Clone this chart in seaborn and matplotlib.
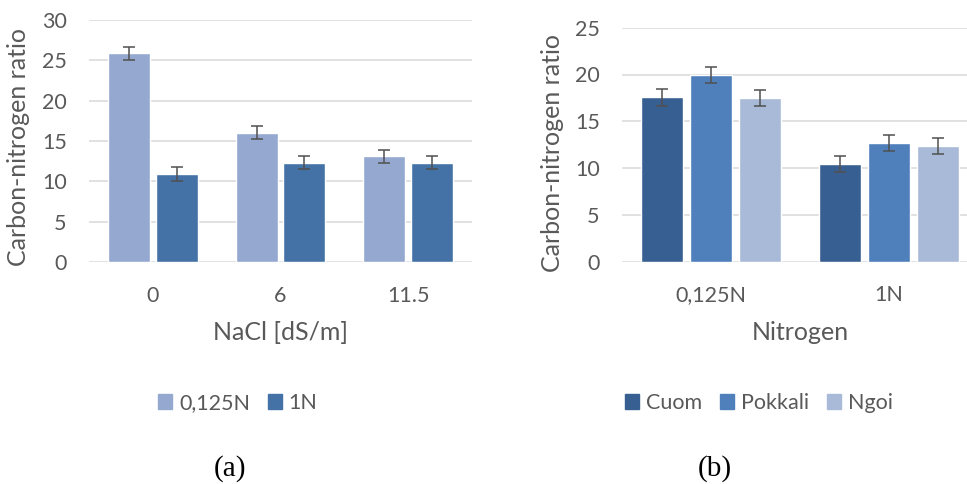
import matplotlib
matplotlib.use("Agg")
import matplotlib.pyplot as plt
import seaborn as sns
import pandas as pd
from matplotlib.patches import Patch

# ---- data ----
nacl_levels = ["0", "6", "11.5"]
left_series = ["0,125N", "1N"]
left_0125N = [25.85, 16.05, 13.1]
left_1N = [10.9, 12.3, 12.3]
left_err_0125N = [0.8, 0.85, 0.83]
left_err_1N = [0.85, 0.8, 0.8]

nitrogen_levels = ["0,125N", "1N"]
right_series = ["Cuom", "Pokkali", "Ngoi"]
right_cuom = [17.55, 10.45]
right_pokkali = [19.9, 12.65]
right_ngoi = [17.5, 12.35]
right_err_cuom = [0.88, 0.88]
right_err_pokkali = [0.85, 0.85]
right_err_ngoi = [0.82, 0.82]

left_colors = ["#95A9D0", "#4472A6"]
right_colors = ["#375F92", "#4F80BC", "#A9B9D8"]

sns.set_theme(style="white")
plt.rcParams["font.family"] = ["Lato", "DejaVu Sans"]
TXT = "#595959"
GRID = "#D9D9D9"
FS = 15.5
FT = 18

W, H = 967, 484
fig = plt.figure(figsize=(W / 100, H / 100), dpi=100)

def px_axes(x0, x1, ytop, ybot):
    return fig.add_axes([x0 / W, 1 - ybot / H, (x1 - x0) / W, (ybot - ytop) / H])

def style_axes(ax, ymax, step):
    ax.set_ylim(0, ymax)
    ax.set_yticks(range(0, ymax + 1, step))
    for s in ax.spines.values():
        s.set_visible(False)
    ax.grid(False)
    for t in range(0, ymax + 1, step):
        ax.axhline(t, color=GRID, lw=1.1, zorder=0)
    ax.tick_params(axis="y", length=0, labelsize=FS, labelcolor=TXT, pad=16)
    ax.tick_params(axis="x", length=0, labelsize=FS, labelcolor=TXT, pad=17)
    ax.set_facecolor("none")

def add_err(ax, errs):
    for cont, err in zip(ax.containers, errs):
        xs = [p.get_x() + p.get_width() / 2 for p in cont.patches]
        ys = [p.get_height() for p in cont.patches]
        ax.errorbar(xs, ys, yerr=err, fmt="none", ecolor="#505050",
                    elinewidth=1.1, capsize=4.3, capthick=1.1, zorder=5)

def set_ylabel(ax, text, x, y):
    ax.set_ylabel(text, fontsize=FT, color=TXT)
    ax.yaxis.label.set_va("center")
    ax.yaxis.set_label_coords(x / W, 1 - y / H, transform=fig.transFigure)

# ---- left panel ----
dfl = pd.DataFrame({
    "NaCl": nacl_levels * 2,
    "N": [left_series[0]] * 3 + [left_series[1]] * 3,
    "val": left_0125N + left_1N,
})
axl = px_axes(89, 472, 20, 262)
sns.barplot(data=dfl, x="NaCl", y="val", hue="N", order=nacl_levels,
            hue_order=left_series, palette=left_colors, errorbar=None,
            width=0.745, gap=0.12, saturation=1, legend=False, ax=axl, zorder=2)
add_err(axl, [left_err_0125N, left_err_1N])
style_axes(axl, 30, 5)
axl.set_xlim(-0.5, 2.5)
axl.set_xlabel("NaCl [dS/m]", fontsize=FT, color=TXT, labelpad=11)
set_ylabel(axl, "Carbon-nitrogen ratio", 19, 147)
axl.legend(handles=[Patch(color=c, label=l) for c, l in zip(left_colors, left_series)],
           loc="center", bbox_to_anchor=(238 / W, 1 - 403 / H), bbox_transform=fig.transFigure,
           ncol=2, frameon=False, fontsize=FS, labelcolor=TXT, handlelength=0.65,
           handleheight=0.65, handletextpad=0.3, columnspacing=0.85)

# ---- right panel ----
dfr = pd.DataFrame({
    "Nitrogen": nitrogen_levels * 3,
    "Var": [right_series[0]] * 2 + [right_series[1]] * 2 + [right_series[2]] * 2,
    "val": right_cuom + right_pokkali + right_ngoi,
})
axr = px_axes(622, 978, 27.7, 261.7)
sns.barplot(data=dfr, x="Nitrogen", y="val", hue="Var", order=nitrogen_levels,
            hue_order=right_series, palette=right_colors, errorbar=None,
            width=0.824, gap=0.14, saturation=1, legend=False, ax=axr, zorder=2)
add_err(axr, [right_err_cuom, right_err_pokkali, right_err_ngoi])
style_axes(axr, 25, 5)
axr.set_xlim(-0.5, 1.5)
axr.set_xlabel("Nitrogen", fontsize=FT, color=TXT, labelpad=11)
set_ylabel(axr, "Carbon-nitrogen ratio", 553, 153)
axr.legend(handles=[Patch(color=c, label=l) for c, l in zip(right_colors, right_series)],
           loc="center", bbox_to_anchor=(759 / W, 1 - 403 / H), bbox_transform=fig.transFigure,
           ncol=3, frameon=False, fontsize=FS, labelcolor=TXT, handlelength=0.65,
           handleheight=0.65, handletextpad=0.3, columnspacing=0.85)

# ---- captions ----
fig.text(230 / W, 1 - 469 / H, "(a)", ha="center", va="center", fontsize=21,
         family=["Liberation Serif", "DejaVu Serif"], color="black")
fig.text(715 / W, 1 - 469 / H, "(b)", ha="center", va="center", fontsize=21,
         family=["Liberation Serif", "DejaVu Serif"], color="black")

fig.savefig("out.png", dpi=100, facecolor="white")
